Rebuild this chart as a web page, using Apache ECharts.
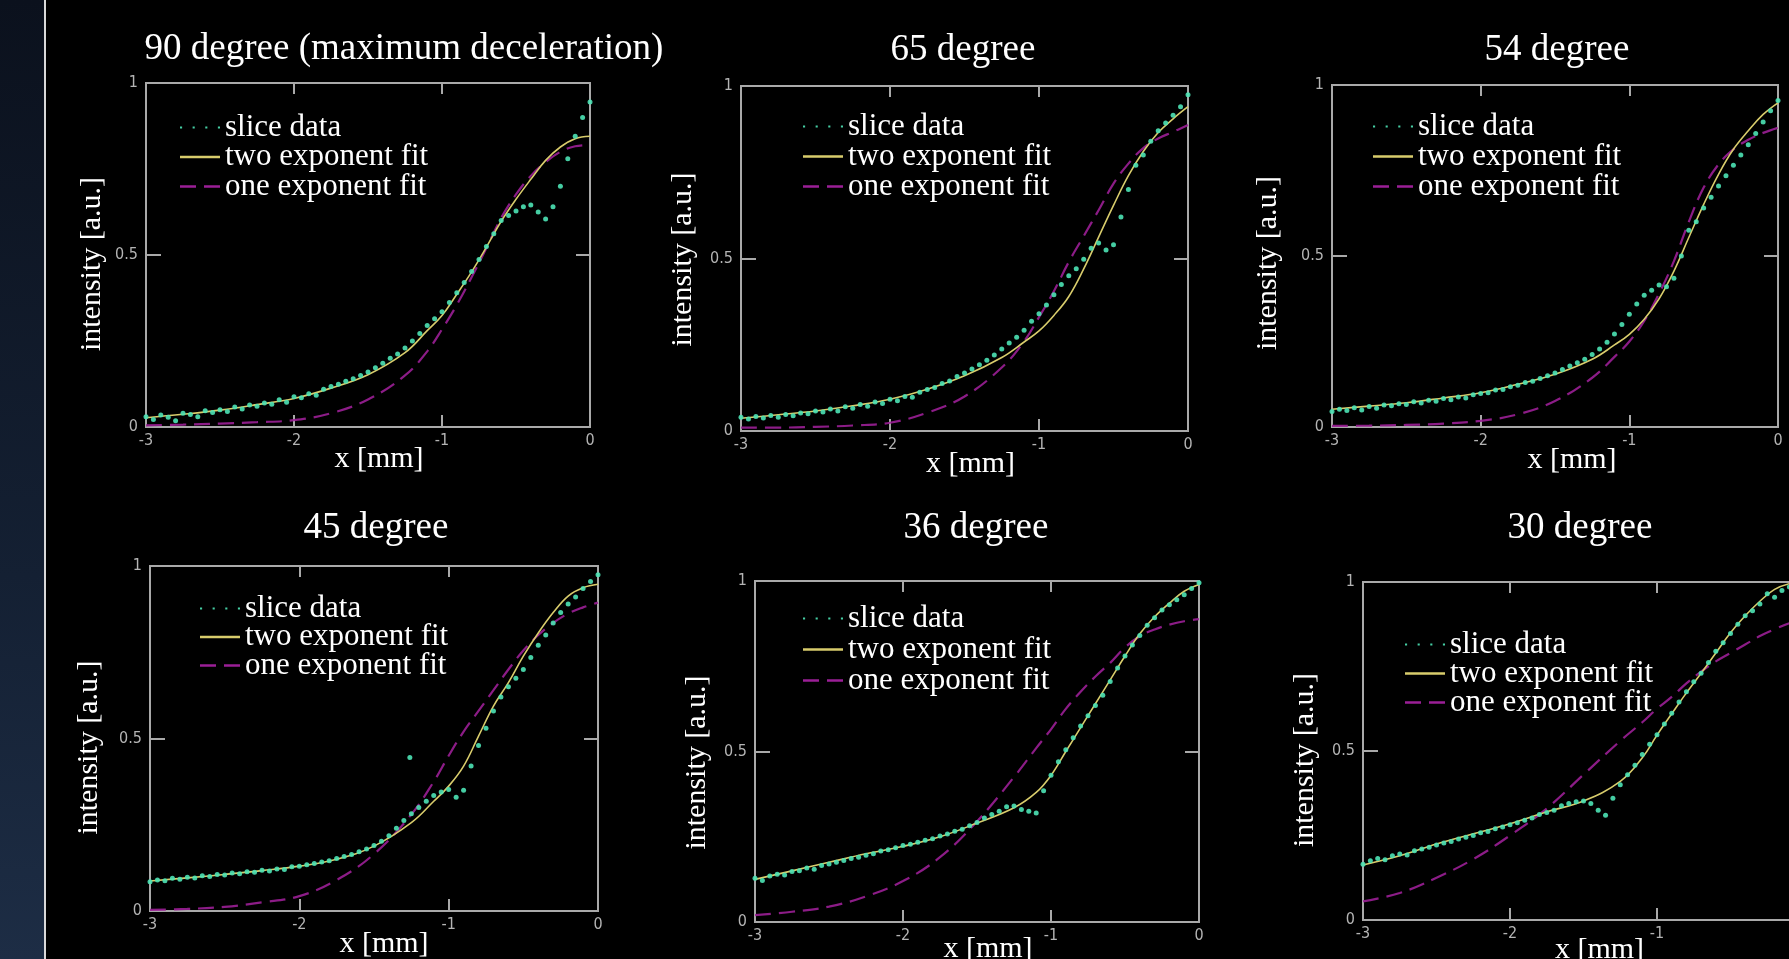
<!DOCTYPE html>
<html>
<head>
<meta charset="utf-8">
<title>slice data fits</title>
<script src="https://cdn.jsdelivr.net/npm/echarts@6/dist/echarts.min.js"></script>
<style>
html,body{margin:0;padding:0;background:#000;}
#main{width:1789px;height:959px;}
</style>
</head>
<body>
<div id="main"></div>
<script>
var titles = ['90 degree (maximum deceleration)','65 degree','54 degree','45 degree','36 degree','30 degree'];
var seriesNames = ['slice data','two exponent fit','one exponent fit'];
var xTicks = [-3,-2,-1,0];
var yTicks = [0,0.5,1];

// x positions of the slice samples [mm]
var sliceX = [-3.00,-2.95,-2.90,-2.85,-2.80,-2.75,-2.70,-2.65,-2.60,-2.55,
	-2.50,-2.45,-2.40,-2.35,-2.30,-2.25,-2.20,-2.15,-2.10,-2.05,
	-2.00,-1.95,-1.90,-1.85,-1.80,-1.75,-1.70,-1.65,-1.60,-1.55,
	-1.50,-1.45,-1.40,-1.35,-1.30,-1.25,-1.20,-1.15,-1.10,-1.05,
	-1.00,-0.95,-0.90,-0.85,-0.80,-0.75,-0.70,-0.65,-0.60,-0.55,
	-0.50,-0.45,-0.40,-0.35,-0.30,-0.25,-0.20,-0.15,-0.10,-0.05,0.00];

var slice90 = [.030,.022,.035,.028,.018,.040,.036,.030,.047,.042,
	.050,.045,.058,.052,.064,.060,.070,.066,.079,.072,
	.088,.085,.097,.092,.110,.118,.124,.133,.140,.150,
	.160,.172,.185,.200,.212,.230,.250,.272,.295,.315,
	.335,.362,.390,.420,.452,.487,.525,.562,.600,.615,
	.628,.640,.645,.625,.605,.640,.700,.780,.845,.900,.945];
var slice65 = [.040,.035,.042,.038,.045,.040,.048,.044,.052,.050,
	.058,.055,.064,.058,.070,.066,.077,.072,.084,.080,
	.092,.088,.100,.098,.112,.120,.126,.138,.145,.158,
	.168,.180,.192,.205,.220,.238,.255,.272,.292,.318,
	.340,.365,.395,.425,.450,.470,.498,.530,.545,.525,
	.540,.620,.700,.770,.800,.840,.870,.893,.915,.940,.975];
var slice54 = [.045,.052,.048,.056,.050,.060,.055,.064,.062,.068,
	.066,.074,.070,.078,.075,.083,.080,.088,.085,.094,
	.098,.100,.108,.110,.118,.122,.130,.134,.142,.150,
	.158,.168,.178,.188,.198,.212,.228,.248,.272,.300,
	.330,.360,.385,.400,.415,.410,.435,.500,.575,.600,
	.640,.672,.705,.735,.765,.795,.825,.858,.892,.925,.955];
var slice45 = [.085,.090,.088,.095,.092,.098,.096,.102,.100,.106,
	.104,.110,.108,.114,.112,.118,.116,.122,.120,.128,
	.130,.134,.138,.142,.146,.152,.158,.164,.172,.180,
	.190,.202,.218,.240,.262,.282,.300,.318,.335,.345,
	.352,.330,.350,.420,.480,.530,.580,.620,.650,.675,
	.700,.735,.770,.800,.835,.865,.890,.910,.935,.955,.975];
var slice36 = [.128,.122,.135,.140,.138,.148,.150,.158,.155,.166,
	.170,.175,.180,.186,.190,.196,.200,.208,.212,.218,
	.224,.228,.234,.240,.244,.252,.258,.266,.272,.282,
	.292,.305,.315,.325,.338,.340,.330,.325,.320,.385,
	.430,.470,.505,.540,.575,.605,.635,.665,.705,.745,
	.780,.812,.840,.870,.892,.915,.930,.945,.960,.978,.995];
var slice30 = [.165,.175,.182,.178,.190,.195,.192,.205,.210,.215,
	.222,.228,.232,.240,.245,.250,.258,.262,.270,.275,
	.282,.288,.295,.302,.312,.318,.325,.338,.345,.350,
	.352,.345,.325,.310,.360,.400,.430,.458,.490,.520,
	.548,.580,.612,.645,.675,.705,.730,.762,.795,.820,
	.848,.875,.900,.915,.935,.965,.955,.975,.985,.970,.990];
// stray dot in the 45 degree slice
var stray45 = [[-1.26,0.445]];

// x positions of the fit curves [mm]
var fitX = [-3,-2.75,-2.5,-2.25,-2,-1.75,-1.5,-1.25,-1.1,-1,-0.9,-0.8,-0.7,-0.6,-0.5,-0.4,-0.3,-0.2,-0.1,0];

var two90 = [.027,.037,.049,.065,.083,.113,.152,.216,.280,.324,.386,.451,.523,.598,.662,.720,.775,.814,.838,.845];
var one90 = [.005,.007,.010,.014,.020,.040,.080,.150,.220,.284,.355,.435,.520,.608,.676,.730,.770,.800,.816,.820];
var two65 = [.037,.047,.058,.073,.092,.121,.160,.213,.258,.290,.335,.390,.470,.562,.654,.740,.810,.865,.905,.940];
var one65 = [.010,.010,.012,.016,.024,.053,.100,.184,.260,.330,.405,.490,.565,.640,.717,.775,.820,.848,.867,.887];
var two54 = [.052,.061,.071,.085,.100,.125,.154,.198,.240,.271,.315,.375,.456,.554,.651,.739,.812,.866,.914,.948];
var one54 = [.003,.004,.006,.010,.018,.037,.076,.144,.205,.250,.310,.390,.485,.600,.700,.768,.812,.840,.860,.875];
var two45 = [.087,.096,.106,.117,.130,.150,.188,.256,.318,.362,.420,.507,.594,.662,.739,.806,.865,.913,.937,.947];
var one45 = [.003,.006,.012,.025,.043,.090,.165,.280,.375,.450,.520,.580,.640,.700,.755,.800,.835,.862,.880,.894];
var two36 = [.125,.150,.175,.200,.222,.250,.290,.335,.380,.430,.500,.570,.640,.710,.780,.845,.895,.935,.970,.990];
var one36 = [.020,.030,.045,.075,.120,.190,.295,.425,.510,.565,.625,.675,.720,.760,.805,.838,.858,.872,.882,.888];
var two30 = [.163,.190,.225,.255,.285,.320,.352,.410,.480,.547,.610,.672,.730,.790,.850,.900,.943,.978,.995,1.00];
var one30 = [.055,.080,.125,.180,.250,.330,.430,.530,.585,.625,.660,.700,.735,.765,.790,.815,.840,.860,.878,.890];

var slices = [slice90,slice65,slice54,slice45,slice36,slice30];
var twoFits = [two90,two65,two54,two45,two36,two30];
var oneFits = [one90,one65,one54,one45,one36,one30];
var strays = [[],[],[],stray45,[],[]];

// panel placement: grid [left, top, width, height]
var layout = [
	{grid:[146,83,444,344], title:[404,49], legend:[180,112,-1.5], yName:[39,9], xName:[17,11]},
	{grid:[741,86,447,345], title:[963,50], legend:[803,111,-1], yName:[43,1], xName:[18,6]},
	{grid:[1332,85,446,342], title:[1557,50], legend:[1373,111,-1], yName:[49,7], xName:[18,17]},
	{grid:[150,566,448,345], title:[376,528], legend:[200,593,-2.5], yName:[46,9], xName:[18,10]},
	{grid:[755,581,444,341], title:[976,528], legend:[803,603,0], yName:[43,11], xName:[12,11]},
	{grid:[1363,582,441,338], title:[1580,528], legend:[1405,629,-2], yName:[43,9], xName:[15,16]}
];

var serif = '"Liberation Serif","Times New Roman",serif';
var tickFont = '"DejaVu Sans Condensed","Liberation Sans Narrow",sans-serif';
var frameColor = '#a9a9a9';
var dotsIcon = 'path://M0,0h2v2h-2zM12,0h2v2h-2zM24,0h2v2h-2zM36,0h2v2h-2z';
var solidIcon = 'path://M0,0h40v2.4h-40z';
var dashIcon = 'path://M0,0h16v2.4h-16zM24,0h16v2.4h-16z';

function pairs(xs, ys){
	var out = [];
	for (var i = 0; i < xs.length; i++) out.push([xs[i], ys[i]]);
	return out;
}

var grids = [], xAxes = [], yAxes = [], series = [], legends = [];
var graphics = [
	{type:'rect', shape:{x:0,y:0,width:44,height:959}, z:-10,
		style:{fill:new echarts.graphic.LinearGradient(0,0,0,1,[{offset:0,color:'#0b111d'},{offset:0.6,color:'#142033'},{offset:1,color:'#1d2d45'}])}},
	{type:'rect', shape:{x:44,y:0,width:2,height:959}, style:{fill:'#d9d9d9'}}
];

for (var p = 0; p < 6; p++) {
	var L = layout[p];
	grids.push({left:L.grid[0], top:L.grid[1], width:L.grid[2], height:L.grid[3],
		outerBoundsMode:'none', containLabel:false,
		show:true, borderColor:frameColor, borderWidth:2, backgroundColor:'transparent'});

	xAxes.push({
		gridIndex:p, type:'value', min:-3, max:0, interval:1, position:'bottom',
		name:'x [mm]', nameLocation:'middle', nameGap:L.xName[0], nameMoveOverlap:false,
		nameTextStyle:{color:'#fff', fontFamily:serif, fontSize:30, padding:[0,0,0,2*L.xName[1]]},
		axisLine:{show:false, onZero:false},
		axisTick:{inside:true, length:12, lineStyle:{color:frameColor, width:2}},
		axisLabel:{color:'#b4b4b4', fontFamily:tickFont, fontSize:16, margin:6},
		splitLine:{show:false}
	});
	xAxes.push({
		gridIndex:p, type:'value', min:-3, max:0, interval:1, position:'top',
		axisLine:{show:false, onZero:false},
		axisTick:{inside:true, length:11, lineStyle:{color:frameColor, width:2}},
		axisLabel:{show:false}, splitLine:{show:false}
	});
	yAxes.push({
		gridIndex:p, type:'value', min:0, max:1, interval:0.5, position:'left',
		name:'intensity [a.u.]', nameLocation:'middle', nameRotate:90, nameGap:L.yName[0], nameMoveOverlap:false,
		nameTextStyle:{color:'#fff', fontFamily:serif, fontSize:30, padding:[0,2*L.yName[1],0,0]},
		axisLine:{show:false, onZero:false},
		axisTick:{inside:true, length:15, lineStyle:{color:frameColor, width:2}},
		axisLabel:{color:'#b4b4b4', fontFamily:tickFont, fontSize:16, margin:8},
		splitLine:{show:false}
	});
	yAxes.push({
		gridIndex:p, type:'value', min:0, max:1, interval:0.5, position:'right',
		axisLine:{show:false, onZero:false},
		axisTick:{inside:true, length:14, lineStyle:{color:frameColor, width:2}},
		axisLabel:{show:false}, splitLine:{show:false}
	});

	series.push({
		name:'one exponent fit', type:'line', xAxisIndex:2*p, yAxisIndex:2*p,
		data:pairs(fitX, oneFits[p]), smooth:0.4, symbol:'none',
		lineStyle:{color:'#9b1f96', width:2.2, type:[16,8], opacity:0.9}, itemStyle:{color:'#9b1f96'},
		silent:true, z:2
	});
	series.push({
		name:'two exponent fit', type:'line', xAxisIndex:2*p, yAxisIndex:2*p,
		data:pairs(fitX, twoFits[p]), smooth:0.4, symbol:'none',
		lineStyle:{color:'#d8cc6c', width:1.6}, itemStyle:{color:'#d8cc6c'},
		silent:true, z:3
	});
	series.push({
		name:'slice data', type:'scatter', xAxisIndex:2*p, yAxisIndex:2*p,
		data:pairs(sliceX, slices[p]).concat(strays[p]), symbol:'circle', symbolSize:5,
		itemStyle:{color:'#4de3b5', opacity:0.9}, silent:true, z:4
	});

	legends.push({
		left:L.legend[0], top:L.legend[1], orient:'vertical', padding:0,
		itemWidth:40, itemHeight:12, itemGap:L.legend[2], selectedMode:false,
		textStyle:{color:'#fff', fontFamily:serif, fontSize:31, lineHeight:28},
		data:[{name:'slice data', icon:dotsIcon}, {name:'two exponent fit', icon:solidIcon}, {name:'one exponent fit', icon:dashIcon}]
	});

	graphics.push({type:'text', x:L.title[0], y:L.title[1],
		style:{text:titles[p], fill:'#fff', font:'37px ' + serif, textAlign:'center', textVerticalAlign:'middle'}});
}

var chart = echarts.init(document.getElementById('main'));
var option = {
	backgroundColor:'#000',
	animation:false,
	grid:grids,
	xAxis:xAxes,
	yAxis:yAxes,
	legend:legends,
	series:series,
	graphic:graphics
};
chart.setOption(option);
</script>
</body>
</html>
